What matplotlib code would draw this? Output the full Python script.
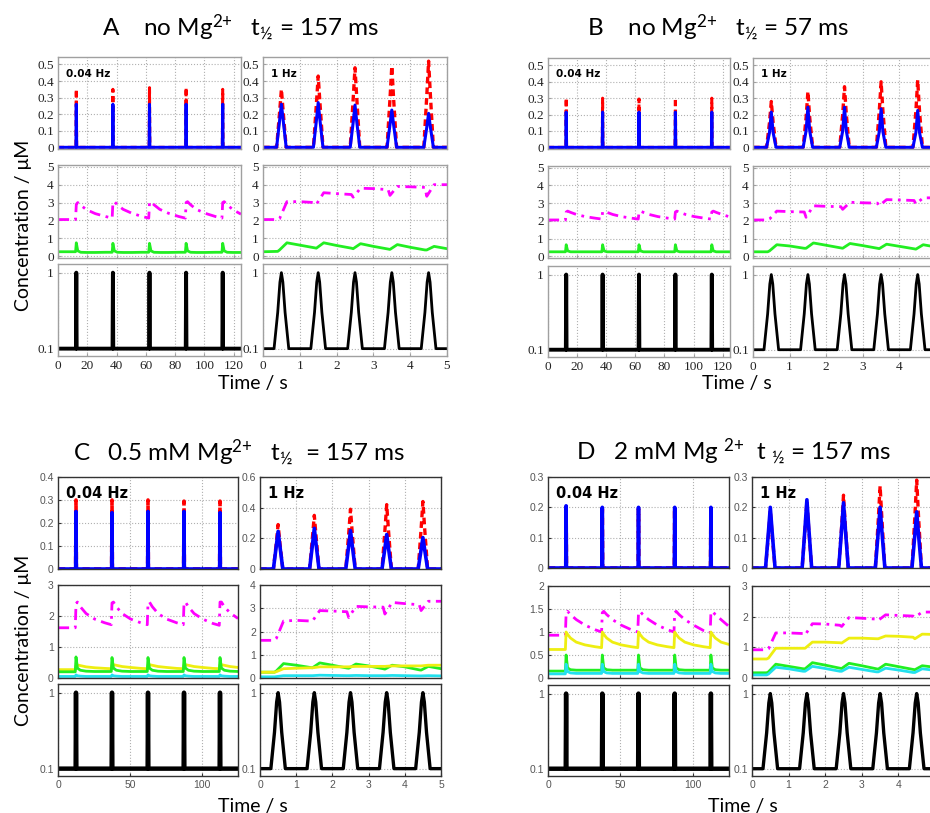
import matplotlib
matplotlib.use('Agg')
import matplotlib.pyplot as plt
from matplotlib.ticker import FormatStrFormatter, NullLocator

plt.rcParams['mathtext.fontset'] = 'custom'
plt.rcParams['mathtext.rm'] = 'Lato'

# ---------------- data ----------------
# slow protocol (0.04 Hz), spike grid
T_SPIKE = [0, 12.25, 12.5, 12.75, 37.25, 37.5, 37.75, 62.25, 62.5, 62.75,
           87.25, 87.5, 87.75, 112.25, 112.5, 112.75, 125]
BLK_L = [0.1, 0.1, 1, 0.1, 0.1, 1, 0.1, 0.1, 1, 0.1, 0.1, 1, 0.1, 0.1, 1, 0.1, 0.1]

# fast protocol (1 Hz), pulse grids
T_PULSE = [0, 0.37, 0.45, 0.5, 0.55, 0.63, 1.37, 1.45, 1.5, 1.55, 1.63,
           2.37, 2.45, 2.5, 2.55, 2.63, 3.37, 3.45, 3.5, 3.55, 3.63,
           4.37, 4.45, 4.5, 4.55, 4.63, 5]
T_BLK_R = [0, 0.3, 0.4, 0.46, 0.5, 0.54, 0.6, 0.7,
           1.3, 1.4, 1.46, 1.5, 1.54, 1.6, 1.7,
           2.3, 2.4, 2.46, 2.5, 2.54, 2.6, 2.7,
           3.3, 3.4, 3.46, 3.5, 3.54, 3.6, 3.7,
           4.3, 4.4, 4.46, 4.5, 4.54, 4.6, 4.7, 5]
BLK_R = [0.1,
         0.1, 0.3, 0.75, 1, 0.75, 0.3, 0.1,
         0.1, 0.3, 0.75, 1, 0.75, 0.3, 0.1,
         0.1, 0.3, 0.75, 1, 0.75, 0.3, 0.1,
         0.1, 0.3, 0.75, 1, 0.75, 0.3, 0.1,
         0.1, 0.3, 0.75, 1, 0.75, 0.3, 0.1, 0.1]

# slow grid for the middle row
T_SLOW = [0, 12, 12.5, 13.5, 15.5, 19.5, 25.5, 32.5,
          37, 37.5, 38.5, 40.5, 44.5, 50.5, 57.5,
          62, 62.5, 63.5, 65.5, 69.5, 75.5, 82.5,
          87, 87.5, 88.5, 90.5, 94.5, 100.5, 107.5,
          112, 112.5, 113.5, 115.5, 119.5, 125]
# fast grid for the middle row
T_FAST = [0, 0.4, 0.45, 0.65, 1.0,
          1.4, 1.45, 1.65, 2.0,
          2.4, 2.45, 2.65, 3.0,
          3.4, 3.45, 3.65, 4.0,
          4.4, 4.45, 4.65, 5.0]

# ---- panel A ----
A_BLU_L = [0, 0, .26, 0, 0, .26, 0, 0, .26, 0, 0, .26, 0, 0, .26, 0, 0]
A_RED_L = [0, 0, .35, 0, 0, .35, 0, 0, .36, 0, 0, .36, 0, 0, .35, 0, 0]
A_BLU_R = [0, 0, .16, .26, .16, 0, 0, .16, .27, .16, 0, 0, .15, .255, .15, 0,
           0, .135, .225, .135, 0, 0, .12, .205, .12, 0, 0]
A_RED_R = [0, 0, .21, .35, .21, 0, 0, .26, .43, .26, 0, 0, .29, .48, .29, 0,
           0, .29, .49, .29, 0, 0, .31, .52, .31, 0, 0]
A_MAG_L = [2.05, 2.05, 2.9, 3.0, 2.85, 2.6, 2.38, 2.22,
           2.13, 3.0, 3.05, 2.88, 2.62, 2.4, 2.22,
           2.13, 3.0, 3.05, 2.88, 2.62, 2.4, 2.22,
           2.13, 3.0, 3.05, 2.88, 2.62, 2.4, 2.22,
           2.13, 3.0, 3.05, 2.88, 2.6, 2.35]
A_GRN_L = [0.25, 0.25, 0.75, 0.3, 0.22, 0.21, 0.21, 0.22,
           0.22, 0.72, 0.3, 0.22, 0.21, 0.21, 0.22,
           0.22, 0.72, 0.3, 0.22, 0.21, 0.21, 0.22,
           0.22, 0.72, 0.3, 0.22, 0.21, 0.21, 0.22,
           0.22, 0.72, 0.3, 0.22, 0.21, 0.21]
A_MAG_R = [2.05, 2.05, 2.1, 3.05, 3.05,
           3.0, 2.9, 3.55, 3.5,
           3.45, 3.3, 3.8, 3.78,
           3.72, 3.4, 3.9, 3.88,
           3.85, 3.35, 4.0, 4.0]
A_GRN_R = [0.25, 0.27, 0.35, 0.75, 0.62,
           0.47, 0.45, 0.75, 0.6,
           0.45, 0.42, 0.7, 0.55,
           0.4, 0.38, 0.65, 0.5,
           0.35, 0.35, 0.55, 0.42]

# ---- panel B ----
B_BLU_L = [0, 0, .215, 0, 0, .215, 0, 0, .215, 0, 0, .215, 0, 0, .215, 0, 0]
B_RED_L = [0, 0, .30, 0, 0, .30, 0, 0, .295, 0, 0, .30, 0, 0, .30, 0, 0]
B_BLU_R = [0, 0, .09, .215, .09, 0, 0, .1, .245, .1, 0, 0, .1, .245, .1, 0,
           0, .095, .235, .095, 0, 0, .09, .225, .09, 0, 0]
B_RED_R = [0, 0, .15, .28, .15, 0, 0, .18, .34, .18, 0, 0, .2, .37, .2, 0,
           0, .22, .40, .22, 0, 0, .22, .41, .22, 0, 0]
B_MAG_L = [2.05, 2.05, 2.5, 2.55, 2.48, 2.36, 2.24, 2.15,
           2.1, 2.5, 2.55, 2.48, 2.36, 2.24, 2.15,
           2.1, 2.5, 2.55, 2.48, 2.36, 2.24, 2.15,
           2.1, 2.5, 2.55, 2.48, 2.36, 2.24, 2.15,
           2.1, 2.5, 2.55, 2.48, 2.36, 2.22]
B_GRN_L = [0.25, 0.25, 0.65, 0.3, 0.25, 0.25, 0.25, 0.25,
           0.25, 0.65, 0.3, 0.25, 0.25, 0.25, 0.25,
           0.25, 0.65, 0.3, 0.25, 0.25, 0.25, 0.25,
           0.25, 0.65, 0.3, 0.25, 0.25, 0.25, 0.25,
           0.25, 0.65, 0.3, 0.25, 0.25, 0.25]
B_MAG_R = [2.05, 2.05, 2.1, 2.55, 2.52,
           2.5, 2.2, 2.85, 2.82,
           2.8, 2.65, 3.05, 3.02,
           3.0, 2.85, 3.2, 3.18,
           3.15, 2.95, 3.3, 3.3]
B_GRN_R = [0.25, 0.25, 0.3, 0.65, 0.58,
           0.45, 0.45, 0.75, 0.62,
           0.47, 0.45, 0.72, 0.6,
           0.45, 0.43, 0.68, 0.56,
           0.42, 0.4, 0.65, 0.52]

# ---- panel C ----
C_BLU_L = [0, 0, .25, 0, 0, .245, 0, 0, .25, 0, 0, .25, 0, 0, .245, 0, 0]
C_RED_L = [0, 0, .30, 0, 0, .30, 0, 0, .30, 0, 0, .295, 0, 0, .295, 0, 0]
C_BLU_R = [0, 0, .15, .245, .15, 0, 0, .16, .265, .16, 0, 0, .15, .25, .15, 0,
           0, .135, .225, .135, 0, 0, .125, .205, .125, 0, 0]
C_RED_R = [0, 0, .17, .29, .17, 0, 0, .21, .35, .21, 0, 0, .23, .39, .23, 0,
           0, .25, .42, .25, 0, 0, .26, .44, .26, 0, 0]
C_MAG_L = [1.62, 1.62, 2.4, 2.45, 2.3, 2.08, 1.9, 1.78,
           1.72, 2.42, 2.45, 2.3, 2.08, 1.9, 1.78,
           1.72, 2.42, 2.45, 2.3, 2.08, 1.9, 1.78,
           1.72, 2.42, 2.45, 2.3, 2.08, 1.9, 1.76,
           1.7, 2.45, 2.45, 2.3, 2.1, 1.92]
C_YEL_L = [0.27, 0.27, 0.4, 0.42, 0.4, 0.36, 0.33, 0.31,
           0.3, 0.42, 0.43, 0.41, 0.37, 0.34, 0.31,
           0.3, 0.42, 0.43, 0.41, 0.37, 0.34, 0.31,
           0.3, 0.42, 0.43, 0.41, 0.37, 0.34, 0.31,
           0.3, 0.42, 0.43, 0.41, 0.37, 0.34]
C_GRN_L = [0.2, 0.2, 0.68, 0.32, 0.25, 0.22, 0.21, 0.21,
           0.21, 0.66, 0.32, 0.25, 0.22, 0.21, 0.21,
           0.21, 0.66, 0.32, 0.25, 0.22, 0.21, 0.21,
           0.21, 0.66, 0.32, 0.25, 0.22, 0.21, 0.21,
           0.21, 0.66, 0.32, 0.25, 0.22, 0.21]
C_CYN_L = [0.05, 0.05, 0.1, 0.07, 0.06, 0.05, 0.05, 0.05,
           0.05, 0.1, 0.07, 0.06, 0.05, 0.05, 0.05,
           0.05, 0.1, 0.07, 0.06, 0.05, 0.05, 0.05,
           0.05, 0.1, 0.07, 0.06, 0.05, 0.05, 0.05,
           0.05, 0.1, 0.07, 0.06, 0.05, 0.05]
C_MAG_R = [1.62, 1.62, 1.7, 2.45, 2.48,
           2.45, 2.45, 2.9, 2.88,
           2.85, 2.6, 3.08, 3.06,
           3.05, 2.75, 3.25, 3.2,
           3.15, 2.9, 3.3, 3.3]
C_YEL_R = [0.25, 0.25, 0.27, 0.4, 0.42,
           0.44, 0.44, 0.48, 0.48,
           0.48, 0.48, 0.5, 0.5,
           0.5, 0.5, 0.52, 0.52,
           0.52, 0.52, 0.55, 0.55]
C_GRN_R = [0.25, 0.25, 0.3, 0.62, 0.55,
           0.45, 0.44, 0.65, 0.55,
           0.43, 0.42, 0.6, 0.52,
           0.4, 0.38, 0.55, 0.48,
           0.35, 0.34, 0.5, 0.4]
C_CYN_R = [0.05, 0.05, 0.06, 0.1, 0.1,
           0.1, 0.1, 0.12, 0.11,
           0.1, 0.1, 0.11, 0.1,
           0.1, 0.1, 0.11, 0.1,
           0.09, 0.09, 0.1, 0.09]

# ---- panel D ----
D_BLU_L = [0, 0, .205, 0, 0, .20, 0, 0, .20, 0, 0, .20, 0, 0, .20, 0, 0]
D_RED_L = [0, 0, .20, 0, 0, .195, 0, 0, .195, 0, 0, .195, 0, 0, .195, 0, 0]
D_BLU_R = [0, 0, .12, .2, .12, 0, 0, .135, .225, .135, 0, 0, .13, .215, .13, 0,
           0, .12, .2, .12, 0, 0, .11, .185, .11, 0, 0]
D_RED_R = [0, 0, .11, .19, .11, 0, 0, .13, .22, .13, 0, 0, .14, .24, .14, 0,
           0, .16, .27, .16, 0, 0, .17, .29, .17, 0, 0]
D_MAG_L = [0.93, 0.93, 1.4, 1.45, 1.38, 1.27, 1.15, 1.05,
           1.0, 1.42, 1.45, 1.38, 1.27, 1.15, 1.05,
           1.0, 1.42, 1.45, 1.38, 1.27, 1.15, 1.05,
           1.0, 1.42, 1.45, 1.38, 1.27, 1.15, 1.03,
           0.98, 1.42, 1.45, 1.38, 1.27, 1.12]
D_YEL_L = [0.62, 0.62, 1.0, 0.95, 0.87, 0.78, 0.72, 0.68,
           0.66, 1.0, 0.95, 0.87, 0.78, 0.72, 0.68,
           0.66, 1.0, 0.95, 0.87, 0.78, 0.72, 0.68,
           0.66, 1.0, 0.95, 0.87, 0.78, 0.72, 0.68,
           0.66, 1.0, 0.95, 0.87, 0.78, 0.73]
D_GRN_L = [0.15, 0.15, 0.5, 0.22, 0.18, 0.17, 0.17, 0.17,
           0.17, 0.5, 0.22, 0.18, 0.17, 0.17, 0.17,
           0.17, 0.5, 0.22, 0.18, 0.17, 0.17, 0.17,
           0.17, 0.5, 0.22, 0.18, 0.17, 0.17, 0.17,
           0.17, 0.5, 0.22, 0.18, 0.17, 0.17]
D_CYN_L = [0.09, 0.09, 0.3, 0.14, 0.11, 0.1, 0.1, 0.1,
           0.1, 0.3, 0.14, 0.11, 0.1, 0.1, 0.1,
           0.1, 0.3, 0.14, 0.11, 0.1, 0.1, 0.1,
           0.1, 0.3, 0.14, 0.11, 0.1, 0.1, 0.1,
           0.1, 0.3, 0.14, 0.11, 0.1, 0.1]
D_MAG_R = [0.92, 0.92, 0.95, 1.47, 1.47,
           1.45, 1.4, 1.77, 1.76,
           1.72, 1.68, 1.97, 1.95,
           1.92, 1.88, 2.06, 2.04,
           2.02, 1.98, 2.15, 2.15]
D_YEL_R = [0.62, 0.62, 0.65, 0.97, 0.97,
           0.97, 0.97, 1.17, 1.17,
           1.15, 1.14, 1.3, 1.3,
           1.28, 1.28, 1.37, 1.36,
           1.33, 1.28, 1.43, 1.42]
D_GRN_R = [0.17, 0.17, 0.2, 0.45, 0.38,
           0.3, 0.3, 0.5, 0.42,
           0.32, 0.31, 0.48, 0.4,
           0.3, 0.29, 0.45, 0.37,
           0.28, 0.27, 0.4, 0.35]
D_CYN_R = [0.1, 0.1, 0.13, 0.35, 0.3,
           0.22, 0.22, 0.38, 0.31,
           0.22, 0.22, 0.35, 0.28,
           0.2, 0.2, 0.32, 0.26,
           0.18, 0.18, 0.3, 0.25]

SUP = r'$\mathregular{^{2{+}}}$'
HALF = r'$\mathregular{_{½}}$'
TITLES = ['A    no Mg' + SUP + '   t' + HALF + ' = 157 ms',
          'B    no Mg' + SUP + '   t' + HALF + ' = 57 ms',
          'C   0.5 mM Mg' + SUP + '   t' + HALF + '  = 157 ms',
          'D   2 mM Mg ' + SUP + '  t ' + HALF + ' = 157 ms']

# ---------------- drawing ----------------
W, H = 930, 813
fig = plt.figure(figsize=(9.3, 8.13), dpi=100)

BLUE, RED, MAG = '#0000ff', '#ff0000', '#ff00ff'
GRN, YEL, CYN = '#22ee22', '#eeee11', '#22e0ee'


def box(x0, y0, x1, y1):
    return fig.add_axes([x0 / W, 1 - y1 / H, (x1 - x0) / W, (y1 - y0) / H])


def style(ax, old, xlim, xticks, ylim, yticks, show_x, fmt='%g'):
    spine = '#a0a0a0' if old else '#333333'
    for s in ax.spines.values():
        s.set_color(spine)
        s.set_linewidth(1.0)
    ax.set_xlim(*xlim)
    ax.set_ylim(*ylim)
    ax.set_xticks(xticks)
    ax.set_yticks(yticks)
    ax.yaxis.set_minor_locator(NullLocator())
    ax.xaxis.set_minor_locator(NullLocator())
    ax.yaxis.set_major_formatter(FormatStrFormatter(fmt))
    ax.grid(True, ls=':', color='#b0b0b0', lw=0.8)
    ax.set_axisbelow(True)
    if old:
        fkw = dict(family='Liberation Serif', size=9.5, color='#222222')
    else:
        fkw = dict(family='Liberation Sans', size=7.5, color='#555555')
    ax.tick_params(direction='in', length=2, color=spine, pad=3)
    for lab in ax.get_yticklabels() + ax.get_xticklabels():
        lab.set_fontfamily(fkw['family'])
        lab.set_fontsize(fkw['size'])
        lab.set_color(fkw['color'])
    if not show_x:
        ax.tick_params(labelbottom=False)


def panel(key, old, xL, xR, rows, top_ylim, mid_ylim, title_xy, time_xy,
          ylab_xy, hz_size, fast_ticks, data):
    (blL, brL, blR, brR, midL, midR) = data
    slow_ticks = [0, 20, 40, 60, 80, 100, 120] if old else [0, 50, 100]
    lw_b = 2.2 if old else 2.6
    lw_k = 2.8 if old else 3.2
    for col, (x0, x1) in enumerate([xL, xR]):
        slow = col == 0
        xlim = (0, 125) if slow else (0, 5)
        xt = slow_ticks if slow else fast_ticks
        # top row
        ax = box(x0, rows[0][0], x1, rows[0][1])
        ylim, yt = top_ylim[col]
        if slow:
            ax.plot(T_SPIKE, brL, color=RED, lw=lw_b, ls=(0, (2.0, 1.2)))
            ax.plot(T_SPIKE, blL, color=BLUE, lw=lw_b)
        else:
            ax.plot(T_PULSE, brR, color=RED, lw=2.4, ls=(0, (2.0, 1.2)))
            ax.plot(T_PULSE, blR, color=BLUE, lw=lw_b)
        style(ax, old, xlim, xt, ylim, yt, False)
        ax.text(0.045, 0.82, '0.04 Hz' if slow else '1 Hz',
                transform=ax.transAxes, fontsize=hz_size, fontweight='bold',
                family='DejaVu Sans', va='center', ha='left')
        # middle row
        ax = box(x0, rows[1][0], x1, rows[1][1])
        ylim, yt = mid_ylim[col]
        series = midL if slow else midR
        tt = T_SLOW if slow else T_FAST
        for vals, color in series:
            if color == MAG:
                ax.plot(tt, vals, color=color, lw=2.0, ls=(0, (4, 2, 1, 2)))
            else:
                ax.plot(tt, vals, color=color, lw=2.0)
        style(ax, old, xlim, xt, ylim, yt, False)
        # bottom row
        ax = box(x0, rows[2][0], x1, rows[2][1])
        ax.set_yscale('log')
        if slow:
            ax.plot(T_SPIKE, BLK_L, color='black', lw=lw_k)
        else:
            ax.plot(T_BLK_R, BLK_R, color='black', lw=2.0 if old else 2.4)
        style(ax, old, xlim, xt, (0.08, 1.3), [0.1, 1], True)
        ax.set_yticklabels(['0.1', '1'],
                           family='Liberation Serif' if old else 'Liberation Sans',
                           size=9.5 if old else 7.5,
                           color='#222222' if old else '#555555')
    fig.text(title_xy[0] / W, 1 - title_xy[1] / H, TITLES[key], ha='center',
             va='center', fontsize=17.5, family='Lato')
    fig.text(time_xy[0] / W, 1 - time_xy[1] / H, 'Time / s', ha='center',
             va='center', fontsize=14, family='Lato')
    if ylab_xy is not None:
        fig.text(ylab_xy[0] / W, 1 - ylab_xy[1] / H, 'Concentration / μM',
                 ha='center', va='center', rotation=90, fontsize=14,
                 family='Lato')


TOP_OLD = [((-0.01, 0.545), [0, 0.1, 0.2, 0.3, 0.4, 0.5])] * 2
MID_OLD = [((-0.1, 5.1), [0, 1, 2, 3, 4, 5])] * 2
FULL = [0, 1, 2, 3, 4, 5]
CUT = [0, 1, 2, 3, 4]

panel(0, True, (58, 241), (263, 447), [(57, 149), (165, 258), (264, 356)],
      TOP_OLD, MID_OLD, (241, 28), (253, 383), (23, 225), 7.5, FULL,
      (A_BLU_L, A_RED_L, A_BLU_R, A_RED_R,
       [(A_MAG_L, MAG), (A_GRN_L, GRN)], [(A_MAG_R, MAG), (A_GRN_R, GRN)]))

panel(1, True, (548, 730), (753, 936), [(58, 149), (166, 258), (266, 357)],
      TOP_OLD, MID_OLD, (718, 28), (737, 383), None, 7.5, CUT,
      (B_BLU_L, B_RED_L, B_BLU_R, B_RED_R,
       [(B_MAG_L, MAG), (B_GRN_L, GRN)], [(B_MAG_R, MAG), (B_GRN_R, GRN)]))

panel(2, False, (58, 238), (260, 441), [(477, 569), (585, 678), (684, 776)],
      [((0, 0.4), [0, 0.1, 0.2, 0.3, 0.4]), ((0, 0.6), [0, 0.2, 0.4, 0.6])],
      [((0, 3), [0, 1, 2, 3]), ((0, 4), [0, 1, 2, 3, 4])],
      (239, 453), (253, 806), (23, 640), 10.5, FULL,
      (C_BLU_L, C_RED_L, C_BLU_R, C_RED_R,
       [(C_MAG_L, MAG), (C_YEL_L, YEL), (C_GRN_L, GRN), (C_CYN_L, CYN)],
       [(C_MAG_R, MAG), (C_GRN_R, GRN), (C_YEL_R, YEL), (C_CYN_R, CYN)]))

panel(3, False, (548, 729), (752, 935), [(477, 568), (586, 678), (685, 776)],
      [((0, 0.3), [0, 0.1, 0.2, 0.3])] * 2,
      [((0, 2), [0, 0.5, 1, 1.5, 2]), ((0, 3), [0, 1, 2, 3])],
      (733, 452), (743, 806), None, 10.5, CUT,
      (D_BLU_L, D_RED_L, D_BLU_R, D_RED_R,
       [(D_MAG_L, MAG), (D_YEL_L, YEL), (D_GRN_L, GRN), (D_CYN_L, CYN)],
       [(D_MAG_R, MAG), (D_YEL_R, YEL), (D_GRN_R, GRN), (D_CYN_R, CYN)]))

fig.savefig('out.png', dpi=100)
